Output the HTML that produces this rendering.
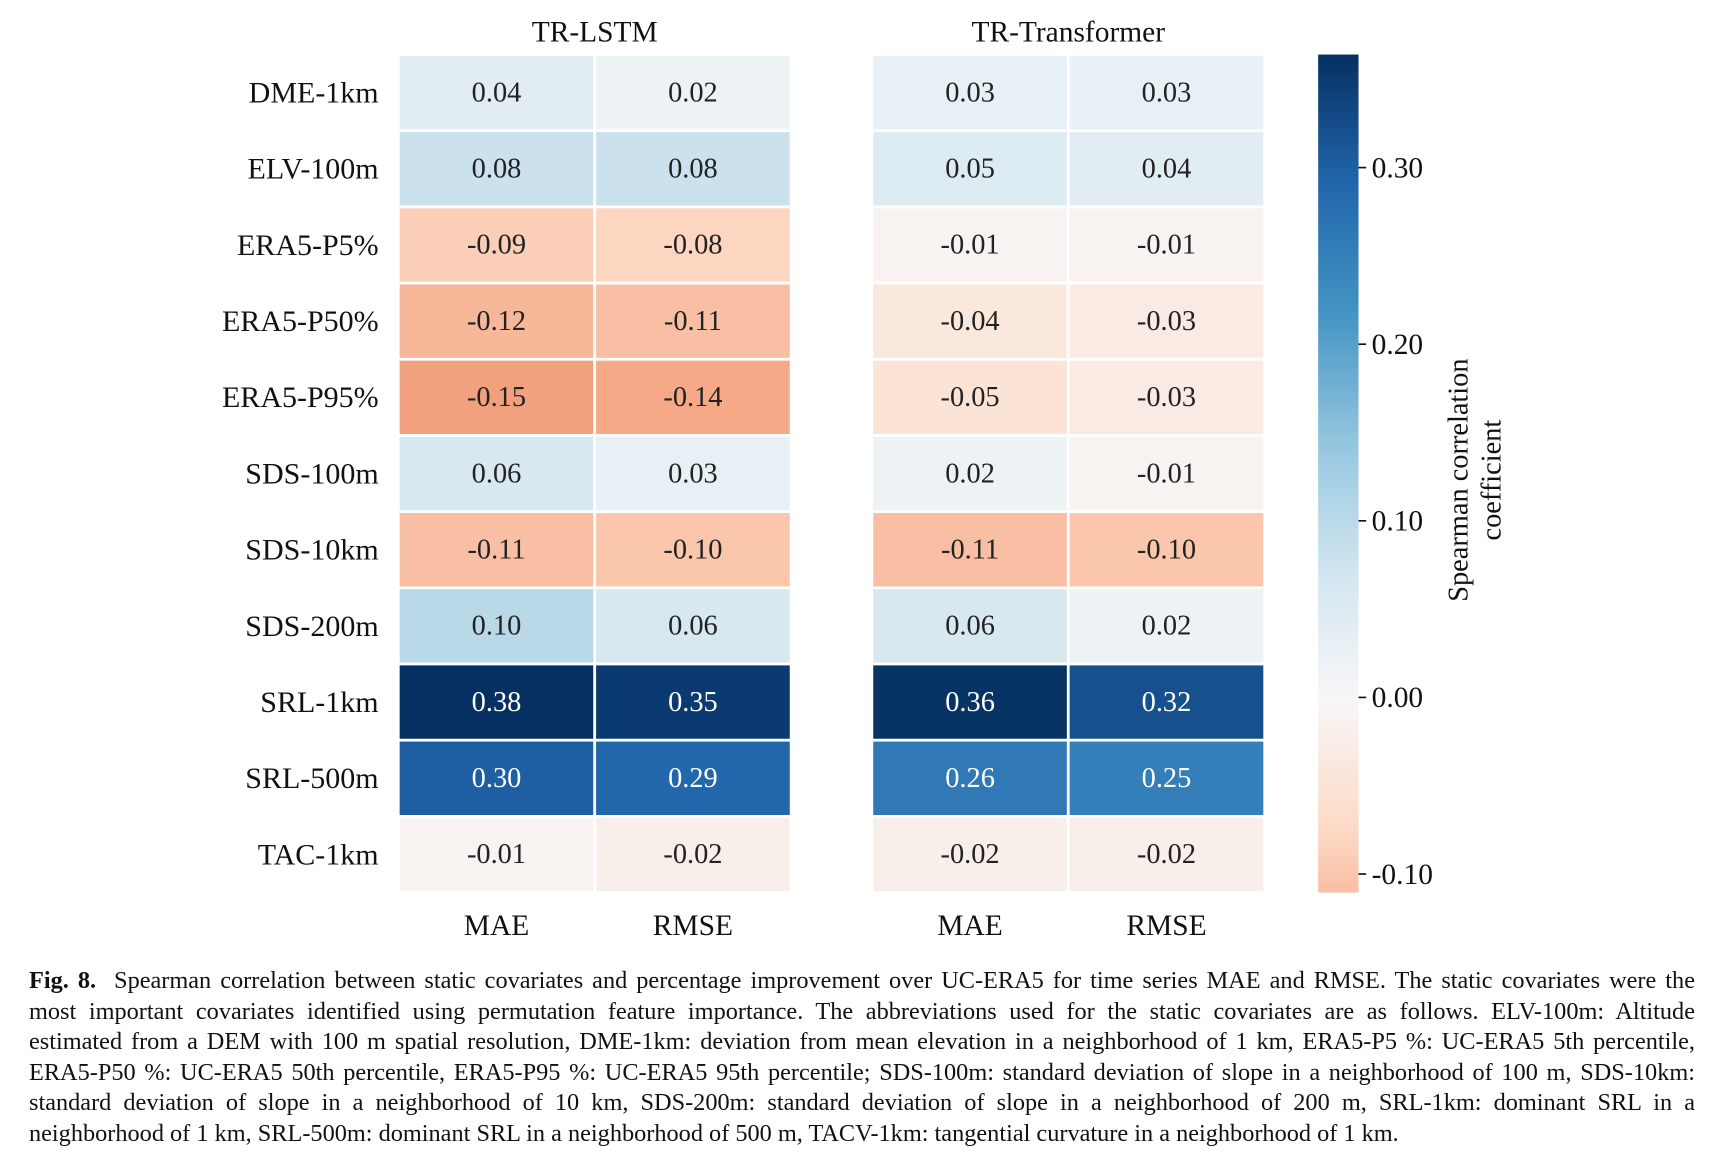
<!DOCTYPE html>
<html><head><meta charset="utf-8">
<style>
html,body{margin:0;padding:0;background:#fff;}
#wrap{position:relative;width:1711px;height:1161px;overflow:hidden;font-family:"Liberation Serif",serif;}
svg{position:absolute;left:0;top:0;}
#caption{position:absolute;left:29px;top:966px;width:1666px;font-size:24.3px;line-height:30.5px;color:#111;}
#caption div{text-align:justify;text-align-last:justify;white-space:nowrap;}
#caption div.last{text-align-last:left;}
</style></head>
<body>
<div id="wrap">
<svg id="chart" width="1711" height="1161" viewBox="0 0 1568 1064"></svg>
<div id="caption">
<div><b>Fig. 8.</b>&nbsp; Spearman correlation between static covariates and percentage improvement over UC-ERA5 for time series MAE and RMSE. The static covariates were the</div>
<div>most important covariates identified using permutation feature importance. The abbreviations used for the static covariates are as follows. ELV-100m: Altitude</div>
<div>estimated from a DEM with 100 m spatial resolution, DME-1km: deviation from mean elevation in a neighborhood of 1 km, ERA5-P5 %: UC-ERA5 5th percentile,</div>
<div>ERA5-P50 %: UC-ERA5 50th percentile, ERA5-P95 %: UC-ERA5 95th percentile; SDS-100m: standard deviation of slope in a neighborhood of 100 m, SDS-10km:</div>
<div>standard deviation of slope in a neighborhood of 10 km, SDS-200m: standard deviation of slope in a neighborhood of 200 m, SRL-1km: dominant SRL in a</div>
<div class="last">neighborhood of 1 km, SRL-500m: dominant SRL in a neighborhood of 500 m, TACV-1km: tangential curvature in a neighborhood of 1 km.</div>
</div>
</div>
<script>
const rowLabels = ["DME-1km","ELV-100m","ERA5-P5%","ERA5-P50%","ERA5-P95%","SDS-100m","SDS-10km","SDS-200m","SRL-1km","SRL-500m","TAC-1km"];
const colLabels = ["MAE","RMSE"];
const panelTitles = ["TR-LSTM","TR-Transformer"];
const lstmMAE = [0.04,0.08,-0.09,-0.12,-0.15,0.06,-0.11,0.10,0.38,0.30,-0.01];
const lstmRMSE = [0.02,0.08,-0.08,-0.11,-0.14,0.03,-0.10,0.06,0.35,0.29,-0.02];
const trMAE = [0.03,0.05,-0.01,-0.04,-0.05,0.02,-0.11,0.06,0.36,0.26,-0.02];
const trRMSE = [0.03,0.04,-0.01,-0.03,-0.03,-0.01,-0.10,0.02,0.32,0.25,-0.02];
const cbTicks = [0.30,0.20,0.10,0.00,-0.10];
const cbMin = -0.1105, cbMax = 0.364;

const NS = "http://www.w3.org/2000/svg";
const svg = document.getElementById("chart");
const RdBu = ["#67001f","#b2182b","#d6604d","#f4a582","#fddbc7","#f7f7f7","#d1e5f0","#92c5de","#4393c3","#2166ac","#053061"];
function hex(c){return [parseInt(c.slice(1,3),16),parseInt(c.slice(3,5),16),parseInt(c.slice(5,7),16)];}
function color(v){
  let t = 0.5 + v/(2*cbMax); t=Math.max(0,Math.min(1,t));
  const p=t*10, i=Math.min(9,Math.floor(p)), f=p-i;
  const a=hex(RdBu[i]), b=hex(RdBu[i+1]);
  return "rgb("+a.map((x,k)=>Math.round(x+(b[k]-x)*f)).join(",")+")";
}
function mk(tag, attrs, text){
  const e=document.createElementNS(NS,tag);
  for(const k in attrs) e.setAttribute(k,attrs[k]);
  if(text!==undefined) e.textContent=text;
  svg.appendChild(e); return e;
}
const top0=50, rowH=(818-50)/rowLabels.length, colW=180;
const panelX=[365,799];
const yScale = i => top0 + rowH*i;
const xScale = (p,c) => panelX[p] + colW*c;
const panels=[[lstmMAE,lstmRMSE],[trMAE,trRMSE]];

panels.forEach((pd,p)=>{
  const t=mk("text",{x:panelX[p]+colW,y:38,"text-anchor":"middle","font-size":"27","font-family":"Liberation Serif, serif",fill:"#111"},panelTitles[p]);
  
  
  pd.forEach((series,c)=>{
    series.forEach((v,i)=>{
      const r=mk("rect",{x:xScale(p,c),y:yScale(i),width:colW,height:rowH,fill:color(v),stroke:"#fff","stroke-width":"2.5"});
      
      
      const tx=mk("text",{x:xScale(p,c)+colW/2,y:yScale(i)+rowH/2+8,"text-anchor":"middle","font-size":"26","font-family":"Liberation Serif, serif",fill:v>0.2?"#fff":"#222"},v.toFixed(2));
      
      
    });
    const xl=mk("text",{x:xScale(p,c)+colW/2,y:857,"text-anchor":"middle","font-size":"27","font-family":"Liberation Serif, serif",fill:"#111"},colLabels[c]);
    
    
  });
});
rowLabels.forEach((l,i)=>{
  const t=mk("text",{x:347,y:yScale(i)+rowH/2+9,"text-anchor":"end","font-size":"27.5","font-family":"Liberation Serif, serif",fill:"#111"},l);
  
  
});
const cbX=1208, cbW=37, cbTop=50, cbBot=818;
const cbY = v => cbBot - (v-cbMin)/(cbMax-cbMin)*(cbBot-cbTop);
const defs=mk("defs",{});
const g=document.createElementNS(NS,"linearGradient");
g.setAttribute("id","cbg");g.setAttribute("x1","0");g.setAttribute("y1","1");g.setAttribute("x2","0");g.setAttribute("y2","0");
defs.appendChild(g);
for(let k=0;k<=40;k++){
  const v=cbMin+(cbMax-cbMin)*k/40;
  const s=document.createElementNS(NS,"stop");
  s.setAttribute("offset",(k/40).toString());s.setAttribute("stop-color",color(v));
  g.appendChild(s);
}
const cb=mk("rect",{x:cbX,y:cbTop,width:cbW,height:cbBot-cbTop,fill:"url(#cbg)"});


cbTicks.forEach(v=>{
  const y=cbY(v);
  const ln=mk("line",{x1:cbX+cbW,x2:cbX+cbW+7,y1:y,y2:y,stroke:"#111","stroke-width":"1.5"});
  
  
  const t=mk("text",{x:cbX+cbW+12,y:y+9,"font-size":"27","font-family":"Liberation Serif, serif",fill:"#111"},v.toFixed(2));
  
  
});
const lab=mk("text",{transform:"translate(1345,440) rotate(-90)","text-anchor":"middle","font-size":"26","font-family":"Liberation Serif, serif",fill:"#111"});


const t1=document.createElementNS(NS,"tspan");t1.setAttribute("x","0");t1.setAttribute("y","0");t1.textContent="Spearman correlation";lab.appendChild(t1);
const t2=document.createElementNS(NS,"tspan");t2.setAttribute("x","0");t2.setAttribute("y","30");t2.textContent="coefficient";lab.appendChild(t2);
</script>
</body></html>
